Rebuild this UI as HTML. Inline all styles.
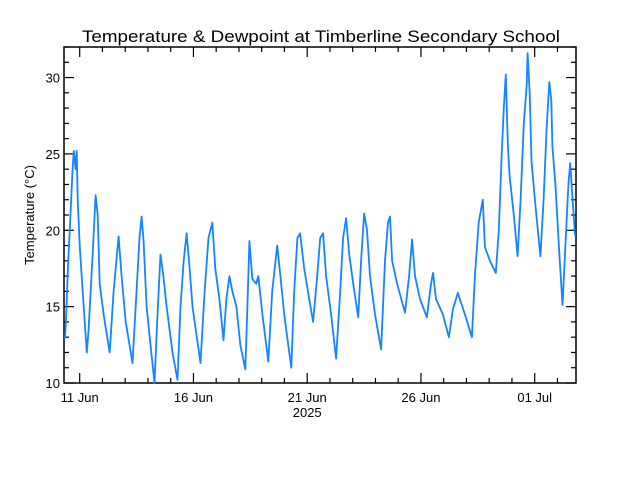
<!DOCTYPE html>
<html><head><meta charset="utf-8"><style>
html,body{margin:0;padding:0;background:#fff;}
svg{display:block;font-family:"Liberation Sans",sans-serif;}
</style></head><body>
<svg id="chart" width="640" height="480" viewBox="0 0 640 480">
<rect x="0" y="0" width="640" height="480" fill="#fff"/>
<text x="82" y="42" font-size="17" textLength="478" lengthAdjust="spacingAndGlyphs" fill="#000">Temperature &amp; Dewpoint at Timberline Secondary School</text>
<text transform="translate(34,215) rotate(-90)" text-anchor="middle" font-size="13" fill="#000">Temperature (°C)</text>
<g id="axes"></g>
<g id="series"></g>
</svg>
<script>
// days since 10 Jun 2025 00:00
const dayOffsets = [0.35,0.39,0.47,0.61,0.69,0.74,0.82,0.87,0.91,1.00,1.13,1.31,1.39,1.57,1.70,1.79,1.88,2.05,2.32,2.49,2.71,2.84,3.02,3.32,3.46,3.63,3.72,3.81,3.94,4.11,4.29,4.42,4.55,4.68,4.82,5.08,5.30,5.43,5.57,5.70,5.83,5.96,6.31,6.49,6.66,6.83,6.96,7.14,7.32,7.45,7.58,7.71,7.89,8.06,8.28,8.37,8.46,8.59,8.76,8.85,9.03,9.29,9.46,9.68,9.82,9.99,10.30,10.43,10.57,10.69,10.87,11.09,11.26,11.44,11.57,11.70,11.83,12.05,12.27,12.45,12.58,12.71,12.84,13.02,13.24,13.37,13.50,13.63,13.76,13.98,14.25,14.42,14.55,14.64,14.73,14.95,15.30,15.48,15.61,15.74,15.96,16.26,16.44,16.53,16.66,16.96,17.23,17.40,17.62,17.93,18.24,18.37,18.54,18.72,18.81,19.03,19.29,19.42,19.55,19.64,19.73,19.82,19.90,20.08,20.25,20.38,20.52,20.65,20.69,20.78,20.86,21.04,21.25,21.39,21.52,21.64,21.73,21.78,21.91,22.08,22.22,22.35,22.48,22.56,22.69,22.78];
const temps = [12.9,13.8,17,21.5,24,25.2,24,25.2,22,19,16,12,13.5,18.5,22.3,21,16.5,14.5,12,16,19.6,17,14,11.3,15,19.5,20.9,19.3,15,12.5,10,14.5,18.4,17,15,12,10.2,15,18,19.8,17.5,15,11.3,16,19.5,20.5,17.5,15.5,12.8,15.5,17,16,15,12.5,10.9,15,19.3,16.8,16.5,17,14.5,11.4,16,19,17,14.5,11,16,19.5,19.8,17.5,15.5,14,17,19.5,19.8,17,14.5,11.6,16,19.5,20.8,18.5,16.5,14.3,18,21.1,20,17,14.5,12.2,18,20.5,20.9,18,16.5,14.6,17,19.4,17,15.5,14.3,16.5,17.2,15.5,14.5,13,14.8,15.9,14.5,13,17,20.5,22,18.9,18,17.2,20,25,28,30.2,25.5,23.5,21,18.3,22,27,29.5,31.6,29,24.5,21.5,18.3,22,26.5,29.7,28.5,25.5,23,18.5,15.1,19,23,24.4,21.5,19.6];
const yTickValues = [10,15,20,25,30];
const xTickDays = [1,6,11,16,21];
const xTickLabels = ["11 Jun","16 Jun","21 Jun","26 Jun","01 Jul"];

const L=64,R=576,T=47,B=383;
const dayPx=22.75, day11X=79.7;
const xMin=1-(day11X-L)/dayPx, xMax=xMin+(R-L)/dayPx;
const yMin=10,yMax=32;
function xs(d){return L+(d-xMin)/(xMax-xMin)*(R-L);}
function ys(v){return B-(v-yMin)/(yMax-yMin)*(B-T);}
const NS="http://www.w3.org/2000/svg";
const axes=document.getElementById('axes');
function mk(tag,attrs,parent){const e=document.createElementNS(NS,tag);for(const k in attrs)e.setAttribute(k,attrs[k]);parent.appendChild(e);return e;}

const frame=mk('rect',{x:L,y:T,width:R-L,height:B-T,fill:'none',stroke:'#000','stroke-width':1.5},axes);



for(let v=yMin;v<=yMax;v++){
  const major=yTickValues.includes(v);const len=major?10:5;const y=ys(v);
  const t1=mk('line',{x1:L,x2:L+len,y1:y,y2:y,stroke:'#000','stroke-width':1.2},axes);
  
  
  const t2=mk('line',{x1:R-len,x2:R,y1:y,y2:y,stroke:'#000','stroke-width':1.2},axes);
  
  
  if(major){
    const tx=mk('text',{x:L-4,y:y+5,'text-anchor':'end','font-size':13,fill:'#000'},axes);
    tx.textContent=String(v);
    
    
  }
}
for(let d=Math.ceil(xMin);d<=xMax;d++){
  const idx=xTickDays.indexOf(d);const major=idx>=0;const len=major?10:5;const x=xs(d);
  const t1=mk('line',{x1:x,x2:x,y1:B,y2:B-len,stroke:'#000','stroke-width':1.2},axes);
  
  
  const t2=mk('line',{x1:x,x2:x,y1:T,y2:T+len,stroke:'#000','stroke-width':1.2},axes);
  
  
  if(major){
    const tx=mk('text',{x:x,y:402,'text-anchor':'middle','font-size':13,fill:'#000'},axes);
    tx.textContent=xTickLabels[idx];
    
    
  }
}
const yr=mk('text',{x:xs(11),y:417,'text-anchor':'middle','font-size':13,fill:'#000'},axes);
yr.textContent='2025';



const series=document.getElementById('series');
let dstr='';
for(let i=0;i<dayOffsets.length;i++){
  dstr+=(i?'L':'M')+xs(dayOffsets[i]).toFixed(1)+','+ys(temps[i]).toFixed(1);
}
const line=mk('path',{d:dstr,fill:'none',stroke:'#1484ff','stroke-width':1.8,'stroke-linejoin':'round'},series);


</script>
</body></html>
